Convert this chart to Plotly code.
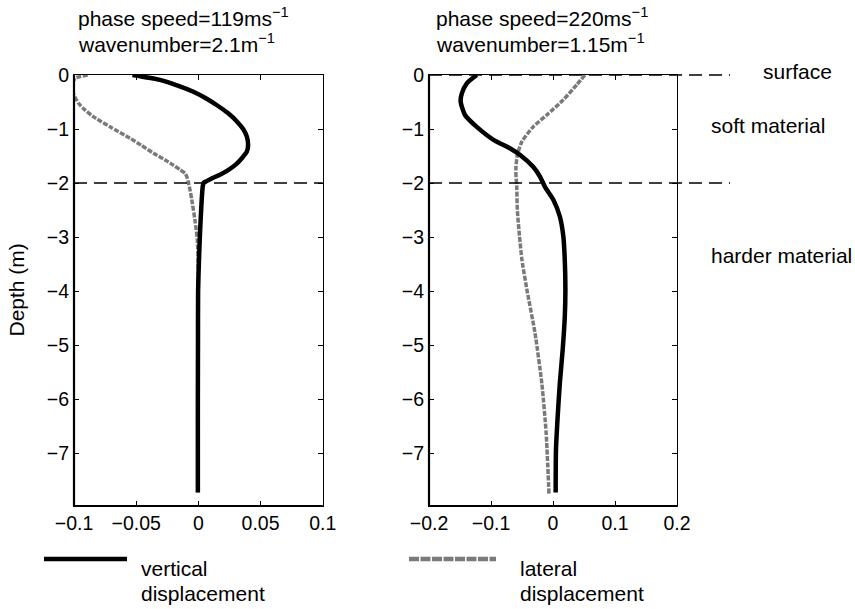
import plotly.graph_objects as go

# ---- data: displacement profiles vs depth (m) ----
# left panel: phase speed 119 m/s, wavenumber 2.1 /m
left_vert_depth = [0, -0.09, -0.2, -0.31, -0.43, -0.56, -0.71, -0.86, -1.0, -1.14, -1.30,
                   -1.42, -1.54, -1.66, -1.76, -1.85, -1.91, -1.96, -1.99, -2.05, -2.31,
                   -2.7, -3.0, -3.43, -4.0, -5.0, -6.0, -7.0, -7.73]
left_vert_disp = [-0.053, -0.031, -0.016, -0.004, 0.006, 0.015, 0.024, 0.031, 0.036, 0.039, 0.040,
                  0.039, 0.035, 0.030, 0.024, 0.017, 0.011, 0.007, 0.0045, 0.0036, 0.0027,
                  0.0018, 0.0012, 0.0005, -0.0002, -0.0003, -0.0004, -0.0004, -0.0004]

left_lat_depth = [0, -0.06, -0.2, -0.34, -0.52, -0.65, -0.77, -0.96, -1.17, -1.3, -1.45,
                  -1.57, -1.67, -1.75, -1.82, -1.9, -1.99, -2.15, -2.31, -2.69, -3.06,
                  -3.5, -4.0, -5.0, -6.0, -7.0, -7.73]
left_lat_disp = [-0.089, -0.099, -0.1015, -0.1005, -0.0965, -0.091, -0.0845, -0.071, -0.055, -0.046, -0.036,
                 -0.027, -0.020, -0.015, -0.0107, -0.009, -0.008, -0.0065, -0.0053, -0.0027, -0.0008,
                 -0.0002, -0.0002, -0.0003, -0.0004, -0.0004, -0.0004]

# right panel: phase speed 220 m/s, wavenumber 1.15 /m
right_vert_depth = [0, -0.154, -0.34, -0.49, -0.74, -0.96, -1.20, -1.36, -1.48, -1.70,
                    -1.88, -2.07, -2.31, -2.62, -2.99, -3.43, -3.98, -4.48, -5.09, -5.71,
                    -6.33, -6.94, -7.73]
right_vert_disp = [-0.123, -0.139, -0.147, -0.149, -0.142, -0.123, -0.096, -0.069, -0.053, -0.032,
                   -0.021, -0.013, 0.0005, 0.011, 0.0167, 0.019, 0.020, 0.019, 0.0156, 0.011,
                   0.0075, 0.0048, 0.0043]

right_lat_depth = [0, -0.185, -0.46, -0.74, -0.96, -1.23, -1.48, -1.76, -2.07, -2.5,
                   -2.99, -3.43, -3.98, -4.78, -5.71, -6.64, -7.75]
right_lat_disp = [0.0516, 0.038, 0.0167, -0.010, -0.032, -0.050, -0.0575, -0.060, -0.0585, -0.0575,
                  -0.054, -0.050, -0.042, -0.029, -0.018, -0.011, -0.0065]

# layer boundaries (m)
surface_depth = 0
interface_depth = -2

# axis ticks
depth_ticks = [0, -1, -2, -3, -4, -5, -6, -7]
depth_ticktext = ["0", "\u22121", "\u22122", "\u22123", "\u22124", "\u22125", "\u22126", "\u22127"]
left_xticks = [-0.1, -0.05, 0, 0.05, 0.1]
left_xticktext = ["\u22120.1", "\u22120.05", "0", "0.05", "0.1"]
right_xticks = [-0.2, -0.1, 0, 0.1, 0.2]
right_xticktext = ["\u22120.2", "\u22120.1", "0", "0.1", "0.2"]

titles_left = ["phase speed=119ms<sup>\u22121</sup>", "wavenumber=2.1m<sup>\u22121</sup>"]
titles_right = ["phase speed=220ms<sup>\u22121</sup>", "wavenumber=1.15m<sup>\u22121</sup>"]

# ---- styling / geometry ----
W, H = 855, 609
FONT = "Liberation Sans, Arial, Helvetica, sans-serif"
BLACK = "#000000"
GREY = "#7a7a7a"
GREY_DASH = "5px,1.5px"


def px(x):
    return x / W


def py(y):
    return 1 - y / H


fig = go.Figure()

fig.add_trace(go.Scatter(x=left_lat_disp, y=left_lat_depth, mode="lines", xaxis="x", yaxis="y",
                         line=dict(color=GREY, width=3.5, dash=GREY_DASH, shape="spline", smoothing=0.6)))
fig.add_trace(go.Scatter(x=left_vert_disp, y=left_vert_depth, mode="lines", xaxis="x", yaxis="y",
                         line=dict(color=BLACK, width=4.5, shape="spline", smoothing=0.6)))
fig.add_trace(go.Scatter(x=right_lat_disp, y=right_lat_depth, mode="lines", xaxis="x2", yaxis="y2",
                         line=dict(color=GREY, width=3.5, dash=GREY_DASH, shape="spline", smoothing=0.6)))
fig.add_trace(go.Scatter(x=right_vert_disp, y=right_vert_depth, mode="lines", xaxis="x2", yaxis="y2",
                         line=dict(color=BLACK, width=4.5, shape="spline", smoothing=0.6)))

y_domain = [py(506), py(75)]
common_axis = dict(showline=True, linecolor=BLACK, linewidth=1, mirror="ticks", ticks="inside",
                   ticklen=5, tickwidth=1, tickcolor=BLACK, showgrid=False, zeroline=False,
                   automargin=False,
                   tickfont=dict(family=FONT, size=19.5, color=BLACK), fixedrange=True)

fig.update_layout(
    template="none",
    width=W, height=H, margin=dict(l=0, r=0, t=0, b=0, autoexpand=False),
    paper_bgcolor="white", plot_bgcolor="white", showlegend=False,
    font=dict(family=FONT, color=BLACK),
    xaxis=dict(domain=[px(74), px(322.7)], range=[-0.1, 0.1], anchor="y",
               tickvals=left_xticks, ticktext=left_xticktext, **common_axis),
    yaxis=dict(domain=y_domain, range=[-7.98, 0], anchor="x",
               tickvals=depth_ticks, ticktext=depth_ticktext, **common_axis),
    xaxis2=dict(domain=[px(429), px(677)], range=[-0.2, 0.2], anchor="y2",
                tickvals=right_xticks, ticktext=right_xticktext, **common_axis),
    yaxis2=dict(domain=y_domain, range=[-7.98, 0], anchor="x2",
                tickvals=depth_ticks, ticktext=depth_ticktext, **common_axis),
)

shapes = []
# heavier left/bottom frame edges
for xr, yr in (("x domain", "y domain"), ("x2 domain", "y2 domain")):
    shapes.append(dict(type="line", xref=xr, yref=yr, x0=0, x1=0, y0=0, y1=1,
                       line=dict(color=BLACK, width=2.2)))
    shapes.append(dict(type="line", xref=xr, yref=yr, x0=0, x1=1, y0=0, y1=0,
                       line=dict(color=BLACK, width=2.2)))

# layer boundaries
dash_style = dict(color=BLACK, width=1.4, dash="13px,7px")
shapes.append(dict(type="line", xref="x domain", yref="y", x0=0, x1=1,
                   y0=interface_depth, y1=interface_depth, line=dash_style))
shapes.append(dict(type="line", xref="paper", yref="y2", x0=px(429), x1=px(730),
                   y0=interface_depth, y1=interface_depth, line=dash_style))
shapes.append(dict(type="line", xref="paper", yref="y2 domain", x0=px(429), x1=px(730),
                   y0=1, y1=1, line=dash_style))

# key swatches
shapes.append(dict(type="line", xref="paper", yref="paper", x0=px(44), x1=px(127),
                   y0=py(559), y1=py(559), line=dict(color=BLACK, width=4.5)))
shapes.append(dict(type="line", xref="paper", yref="paper", x0=px(409), x1=px(496),
                   y0=py(559), y1=py(559), line=dict(color=GREY, width=4.5, dash="10px,1.5px")))
fig.update_layout(shapes=shapes)

TXT = 21


def label(text, x, y, xanchor="left", **kw):
    fig.add_annotation(text=text, x=px(x), y=py(y), xref="paper", yref="paper",
                       xanchor=xanchor, yanchor="middle", showarrow=False,
                       font=dict(family=FONT, size=TXT, color=BLACK), **kw)


label(titles_left[0], 76, 17)
label(titles_left[1], 76, 43)
label(titles_right[0], 434, 17)
label(titles_right[1], 434, 43)

label("surface", 761, 72)
label("soft material", 709, 126)
label("harder material", 709, 256)

label("vertical", 139, 568)
label("displacement", 139, 593)
label("lateral", 518, 568)
label("displacement", 518, 593)

label("Depth (m)", 16, 290.5, xanchor="center", textangle=-90)

fig.write_html("out.html")
